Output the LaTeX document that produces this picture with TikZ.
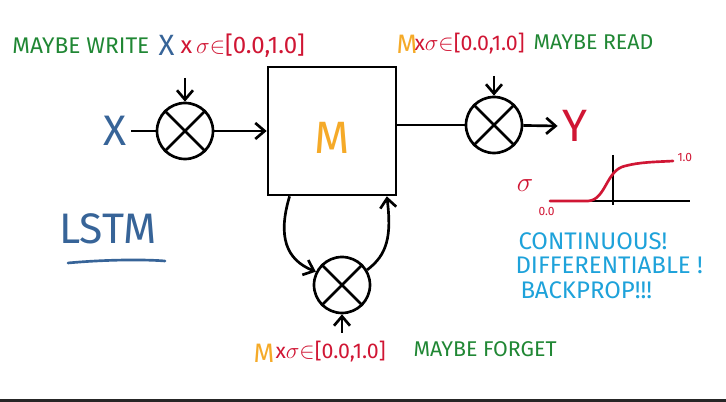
\documentclass[tikz,border=0pt]{standalone}
\usepackage{fontspec}
\setmainfont{Fira Sans}
\usetikzlibrary{arrows.meta}
\tikzset{every picture/.style={line width=0.75pt}}
\definecolor{mgreen}{RGB}{32,135,52}
\definecolor{mblue}{RGB}{55,100,152}
\definecolor{mred}{RGB}{208,22,52}
\definecolor{morange}{RGB}{245,170,40}
\definecolor{mcyan}{RGB}{30,162,218}
\tikzset{
  gate/.style={draw,circle,minimum size=42pt,inner sep=0pt,line width=2pt},
  wire/.style={line width=2pt,-{Straight Barb[length=7pt,width=12pt]}},
  lbl/.style={anchor=west,inner sep=0pt,font=\fontsize{16}{19}\selectfont}
}

\begin{document}
\begin{tikzpicture}[x=0.75pt,y=0.75pt,yscale=-1]
\useasboundingbox (0,0) rectangle (726,402);
\fill[black!85] (0,399.5) rectangle (726,402);

%Shape: Square (memory)
\node[draw,line width=2pt,minimum size=96pt,inner sep=0pt] (box) at (332,131) {};
\node[text=morange,font=\fontsize{34}{36}\selectfont] (mem) at (332,138) {M};

%Shape: Circle (gates)
\node[gate] (wgate) at (185,131) {};
\node[gate] (rgate) at (494,125) {};
\node[gate] (fgate) at (342,285) {};
\foreach \g in {wgate,rgate,fgate}
  \draw[line width=2pt] (\g.north west) -- (\g.south east) (\g.north east) -- (\g.south west);

%Inputs and outputs
\node[text=mblue,font=\fontsize{32}{34}\selectfont] (xin) at (115,131) {X};
\node[text=mred,font=\fontsize{34}{36}\selectfont] (yout) at (575,126) {Y};
\coordinate (wtop) at (185,78);
\coordinate (rtop) at (494,76);
\coordinate (fbot) at (342,333);

%Straight Lines
\draw[line width=2pt] (xin.east) -- (wgate);
\draw[wire] (wgate) -- (box.west |- wgate);
\draw[line width=2pt] (box.east |- rgate) -- (rgate);
\draw[wire] (rgate) -- (yout.west);
\draw[wire] (wtop) -- (wgate);
\draw[wire] (rtop) -- (rgate);
\draw[wire] (fbot) -- (fgate);

%Curves (forget loop)
\draw[wire] (box.237) .. controls +(-12,40) and +(-30,-12) .. (fgate.153);
\draw[wire] (fgate.31) .. controls +(20,-15) and +(5,40) .. (box.310);

%Labels
\node[lbl,text=mgreen,font=\fontsize{17}{20}\selectfont] (wtxt) at (12,46) {MAYBE WRITE};
\node[lbl,text=mblue,font=\fontsize{22}{24}\selectfont] (wx) at (158,45) {X};
\node[lbl,text=mred,font=\fontsize{18}{20}\selectfont] (wsig) at (180,46) {x\,$\sigma{\in}$[0.0,1.0]};

\node[lbl,text=morange,font=\fontsize{20}{22}\selectfont] (rm) at (396,44) {M};
\node[lbl,text=mred] (rsig) at (414,44) {x$\sigma{\in}$[0.0,1.0]};
\node[lbl,text=mgreen] (rtxt) at (533,42) {MAYBE READ};

\node[lbl,text=morange,font=\fontsize{20}{22}\selectfont] (fm) at (253,353) {M};
\node[lbl,text=mred] (fsig) at (275,352) {x$\sigma{\in}$[0.0,1.0]};
\node[lbl,text=mgreen] (ftxt) at (413,349) {MAYBE FORGET};

\node[text=mblue,font=\fontsize{32}{34}\selectfont] (lstm) at (108,229) {LSTM};
\draw[mblue,line width=2pt,line cap=round] (68,263) .. controls (100,260) and (140,259) .. (165,261);

%Sigmoid sketch
\draw[line width=2pt] (550,201) -- (690,201);
\draw[line width=2pt] (613,155) -- (613,205);
\draw[mred,line width=2pt,line cap=round] (550,201) -- (588,201) .. controls (606,200) and (606,170) .. (625,166) .. controls (640,162) and (655,162) .. (673,161);
\node[text=mred,font=\fontsize{22}{24}\selectfont] (sig) at (525,186) {$\sigma$};
\node[lbl,text=mred,font=\fontsize{9}{10}\selectfont] (one) at (677,158) {1.0};
\node[lbl,text=mred,font=\fontsize{9}{10}\selectfont] (zero) at (538,212) {0.0};

\node[lbl,text=mcyan,font=\fontsize{18}{20}\selectfont] (cont) at (518,241) {CONTINUOUS!};
\node[lbl,text=mcyan,font=\fontsize{18}{20}\selectfont] (diff) at (515,265) {DIFFERENTIABLE !};
\node[lbl,text=mcyan,font=\fontsize{18}{20}\selectfont] (back) at (520,290) {BACKPROP!!!};
\end{tikzpicture}
\end{document}
